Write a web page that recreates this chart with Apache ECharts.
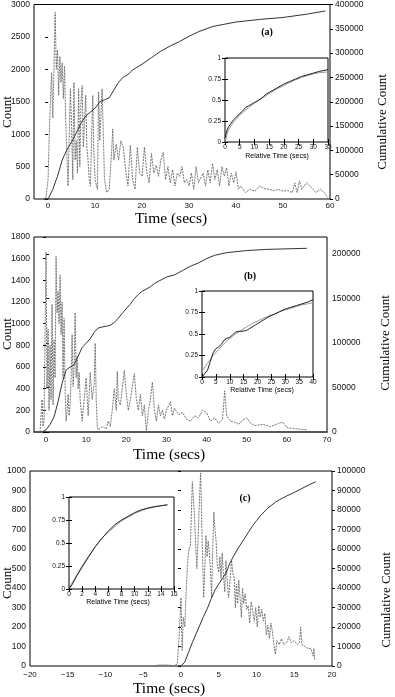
<!DOCTYPE html>
<html>
<head>
<meta charset="utf-8">
<script src="https://cdn.jsdelivr.net/npm/echarts@6/dist/echarts.min.js"></script>
<style>
html, body { margin: 0; padding: 0; background: #fff; }
#chart { width: 395px; height: 697px; }
</style>
</head>
<body>
<div id="chart"></div>
<script>
// (a) count per time bin, [secs, count]
var countA = [
  [-1, 0], [-0.5, 0], [0, 300], [0.25, 1000], [0.5, 1500], [0.75, 1950], [1, 1250], [1.25, 2000],
  [1.5, 2880], [1.75, 2000], [2, 2300], [2.25, 1600], [2.5, 2200], [2.75, 1800], [3, 2100], [3.25, 1550],
  [3.5, 2050], [3.75, 1200], [4, 700], [4.25, 200], [4.5, 1000], [4.75, 1700], [5, 1100], [5.25, 300],
  [5.5, 1800], [5.75, 600], [6, 900], [6.25, 400], [6.5, 1700], [6.75, 500], [7, 1500], [7.25, 1750],
  [7.5, 800], [8, 1600], [8.25, 800], [8.5, 600], [8.75, 300], [9, 200], [9.5, 1600], [9.75, 700],
  [10, 300], [10.5, 150], [10.75, 1650], [11, 900], [11.5, 1700], [12, 300], [12.5, 100], [13, 150],
  [13.5, 700], [13.75, 1080], [14, 600], [14.5, 850], [15, 600], [15.5, 900], [16, 800], [16.5, 450],
  [17, 200], [17.5, 830], [18, 300], [18.5, 150], [19, 800], [19.5, 400], [20, 350], [20.5, 800],
  [21, 420], [21.5, 250], [22, 700], [22.5, 400], [23, 520], [23.5, 350], [24, 600], [24.5, 720],
  [25, 300], [25.5, 500], [26, 250], [26.5, 450], [27, 200], [27.5, 400], [28, 350], [28.5, 500],
  [29, 250], [29.5, 300], [30, 200], [30.5, 400], [31, 150], [31.5, 500], [32, 250], [33, 400],
  [33.5, 200], [34, 450], [34.5, 250], [35, 550], [35.5, 300], [36, 450], [36.5, 200], [37, 500],
  [37.5, 350], [38, 480], [38.5, 200], [39, 400], [39.5, 250], [40, 420], [40.5, 150], [41, 200],
  [42, 100], [43, 150], [44, 120], [45, 200], [46, 160], [47, 150], [48, 130], [49, 150], [50, 120],
  [51, 130], [52, 100], [52.5, 250], [53, 100], [53.5, 280], [54, 150], [55, 250], [56, 180],
  [57, 100], [58, 150], [59, 80], [59.5, 20]
]
var cumA = [
  [-1, 0], [0, 0], [1, 20000], [2, 46700], [3, 80000], [4, 101300], [5, 117300], [6, 136000],
  [7, 156000], [8, 170700], [9, 178700], [10, 186700], [11, 200000], [12, 204000], [13, 208000],
  [14, 224000], [15, 240000], [16, 250700], [17, 256000], [18, 265300], [20, 277300], [22, 290700],
  [24, 304000], [26, 314700], [28, 324000], [30, 334700], [32, 344000], [35, 354700], [40, 364000],
  [45, 369300], [50, 373300], [55, 380000], [59, 386700]
]
var relA = [
  [0, 0.05], [0.5, 0.12], [1, 0.17], [2, 0.22], [3, 0.27], [4, 0.3], [5, 0.34], [6, 0.37], [7, 0.41],
  [8, 0.43], [9, 0.45], [10, 0.47], [11, 0.49], [12, 0.51], [13, 0.54], [14, 0.57], [15, 0.59],
  [16, 0.61], [18, 0.65], [20, 0.69], [22, 0.72], [24, 0.75], [26, 0.78], [28, 0.8], [30, 0.82],
  [32, 0.84], [34, 0.855], [35, 0.86]
]
var fitA = [
  [0, 0], [1, 0.13], [2, 0.19], [3, 0.24], [4, 0.28], [5, 0.32], [6, 0.35], [8, 0.41], [10, 0.46],
  [12, 0.51], [14, 0.55], [16, 0.6], [18, 0.64], [20, 0.67], [22, 0.71], [24, 0.74], [26, 0.77],
  [28, 0.79], [30, 0.81], [32, 0.825], [35, 0.835]
]

// (b)
var countB = [
  [-1.5, 0], [-1, 300], [-0.75, 50], [-0.5, 100], [0, 1660], [0.25, 400], [0.5, 950], [0.75, 200],
  [1, 800], [1.25, 300], [1.5, 1180], [1.75, 250], [2, 850], [2.25, 500], [2.5, 1620], [2.75, 1100],
  [3, 1300], [3.25, 1000], [3.5, 1450], [3.75, 900], [4, 1200], [4.25, 500], [4.5, 1050], [4.75, 400],
  [5, 100], [5.25, 200], [5.5, 350], [5.75, 150], [6, 250], [6.25, 500], [6.5, 900], [6.75, 420],
  [7, 600], [7.25, 1100], [7.5, 500], [7.75, 700], [8, 400], [8.25, 550], [8.5, 300], [8.75, 200],
  [9, 100], [9.5, 300], [10, 500], [10.5, 150], [11, 550], [11.5, 300], [12, 450], [12.25, 820],
  [12.5, 300], [12.75, 50], [13, 20], [14, 50], [15, 30], [15.5, 100], [16, 50], [16.5, 200],
  [17, 400], [17.5, 200], [17.75, 560], [18, 300], [18.5, 250], [19, 400], [19.5, 570], [20, 350],
  [20.5, 200], [21, 300], [21.5, 420], [22, 540], [22.5, 300], [23, 200], [23.5, 350], [24, 150],
  [24.5, 250], [25, 0], [25.5, 200], [26, 300], [26.5, 460], [27, 200], [27.5, 100], [28, 250],
  [28.5, 150], [29, 200], [29.5, 120], [30, 200], [31, 280], [31.5, 150], [32, 220], [33, 160],
  [34, 180], [35, 120], [36, 100], [37, 150], [38, 130], [39, 200], [40, 180], [41, 100], [42, 130],
  [43, 80], [44, 120], [44.5, 380], [45, 150], [46, 100], [47, 90], [48, 70], [49, 110], [50, 130],
  [51, 80], [52, 60], [54, 70], [56, 50], [58, 80], [59, 90], [60, 40], [62, 30], [65, 20]
]
var cumB = [
  [-1, 0], [0, 2400], [1, 8500], [2, 17000], [3, 34100], [4, 54800], [5, 69400], [6, 73000],
  [7, 75500], [8, 85200], [9, 94900], [10, 99800], [11, 104700], [12, 112000], [13, 116800],
  [14, 118000], [15, 118700], [16, 119900], [17, 122900], [18, 127800], [19, 133200], [20, 138700],
  [21, 143600], [22, 149700], [23, 154600], [24, 158200], [25, 160600], [26, 163100], [27, 166700],
  [28, 169200], [30, 174000], [32, 176500], [34, 181300], [36, 186200], [38, 189900], [40, 194700],
  [42, 198400], [45, 201400], [50, 203800], [55, 205100], [60, 205700], [65, 206300]
]
var relB = [
  [0, 0], [1, 0.04], [2, 0.08], [3, 0.18], [4, 0.28], [5, 0.33], [6, 0.35], [7, 0.38], [8, 0.43],
  [9, 0.45], [10, 0.46], [11, 0.49], [12, 0.52], [13, 0.53], [14, 0.53], [15, 0.535], [16, 0.54],
  [17, 0.56], [18, 0.58], [19, 0.6], [20, 0.62], [22, 0.66], [24, 0.7], [26, 0.73], [28, 0.76],
  [30, 0.79], [32, 0.81], [34, 0.83], [36, 0.85], [38, 0.87], [40, 0.9]
]
var fitB = [
  [0, 0.07], [2, 0.16], [4, 0.25], [6, 0.32], [8, 0.39], [10, 0.45], [12, 0.5], [14, 0.54],
  [16, 0.58], [18, 0.62], [20, 0.65], [22, 0.68], [24, 0.71], [26, 0.73], [28, 0.76], [30, 0.78],
  [32, 0.8], [34, 0.82], [36, 0.84], [38, 0.85], [40, 0.865]
]

// (c)
var countC = [
  [-3.5, 0], [-3, 5], [-2, 5], [-1.6, 5], [-1, 0], [-0.5, 10], [-0.25, 150], [0, 350], [0.15, 80],
  [0.3, 250], [0.5, 200], [0.6, 300], [0.85, 520], [1.05, 600], [1.25, 620], [1.5, 945], [1.75, 790],
  [1.9, 800], [2.1, 500], [2.25, 640], [2.45, 860], [2.6, 990], [2.8, 640], [3, 350], [3.15, 500],
  [3.3, 670], [3.45, 560], [3.6, 640], [3.75, 580], [3.9, 500], [4.05, 350], [4.2, 600], [4.35, 790],
  [4.5, 700], [4.65, 640], [4.8, 520], [5, 480], [5.15, 560], [5.3, 450], [5.45, 580], [5.6, 480],
  [5.8, 380], [5.95, 540], [6.1, 450], [6.3, 350], [6.5, 440], [6.7, 540], [6.85, 480], [7.05, 450],
  [7.2, 300], [7.35, 420], [7.5, 320], [7.65, 440], [7.8, 360], [8, 250], [8.15, 400], [8.3, 320],
  [8.5, 370], [8.7, 290], [8.9, 310], [9.1, 220], [9.3, 330], [9.5, 280], [9.7, 230], [9.9, 300],
  [10.1, 200], [10.3, 310], [10.5, 250], [10.7, 290], [10.9, 230], [11.1, 270], [11.3, 160],
  [11.5, 210], [11.7, 140], [11.9, 220], [12.1, 180], [12.3, 110], [12.5, 60], [12.7, 130], [13, 110],
  [13.3, 140], [13.6, 110], [14, 120], [14.3, 150], [14.6, 120], [15, 130], [15.4, 110], [15.7, 120],
  [15.85, 200], [16, 110], [16.4, 100], [16.8, 90], [17.2, 90], [17.5, 50], [17.6, 90], [17.7, 30]
]
var cumC = [
  [-0.3, 0], [0, 0], [0.5, 2000], [1, 7000], [1.5, 12000], [2, 16500], [2.5, 21000], [3, 25500],
  [3.5, 29600], [4, 34500], [4.5, 39000], [5, 42000], [5.5, 45000], [6, 48000], [6.5, 53000],
  [7, 56500], [7.5, 60000], [8, 63000], [8.5, 66000], [9, 69000], [9.5, 72000], [10, 74500],
  [10.5, 77000], [11, 79000], [11.5, 81000], [12, 82500], [12.5, 84000], [13, 85200], [13.5, 86200],
  [14, 87200], [15, 89000], [16, 91000], [17, 93000], [17.85, 94500]
]
var relC = [
  [0, 0], [0.5, 0.05], [1, 0.12], [2, 0.24], [3, 0.35], [4, 0.46], [5, 0.55], [6, 0.63], [7, 0.7],
  [8, 0.75], [9, 0.79], [10, 0.83], [11, 0.86], [12, 0.88], [13, 0.895], [14, 0.905], [15, 0.915]
]
var fitC = [
  [0, 0.01], [1, 0.13], [2, 0.25], [3, 0.36], [4, 0.46], [5, 0.55], [6, 0.62], [7, 0.68], [8, 0.74],
  [9, 0.78], [10, 0.82], [11, 0.85], [12, 0.875], [13, 0.89], [14, 0.905], [15, 0.915]
]

// tick labels
var timeTicksA = [0, 10, 20, 30, 40, 50, 60]
var timeTicksB = [0, 10, 20, 30, 40, 50, 60, 70]
var cumTicksB = [0, 50000, 100000, 150000, 200000]

var SANS = 'Liberation Sans'
var SERIF = 'Liberation Serif'

function minus (v) { return String(v).replace('-', '\u2212') }

function lab (size, margin, extra) {
  var o = { fontFamily: SANS, fontSize: size, color: '#111', margin: margin, formatter: minus }
  for (var k in extra) o[k] = extra[k]
  return o
}

function mainX (gi, min, max, interval, ticks, margin) {
  return {
    type: 'value', gridIndex: gi, min: min, max: max, interval: interval,
    axisLine: { show: false }, axisTick: { show: false }, splitLine: { show: false },
    axisLabel: lab(8, margin, ticks ? { customValues: ticks } : {})
  }
}

function mainY (gi, max, interval, right, ticks) {
  return {
    type: 'value', gridIndex: gi, min: 0, max: max, interval: interval,
    position: right ? 'right' : 'left',
    axisLine: { show: false }, splitLine: { show: false },
    axisTick: ticks ? { length: 3, customValues: ticks, lineStyle: { color: '#000' } } : { length: 3, lineStyle: { color: '#000' } },
    axisLabel: lab(8.5, right ? 5 : 4, ticks ? { customValues: ticks } : {})
  }
}

function insetX (gi, max, step, top) {
  return {
    type: 'value', gridIndex: gi, min: 0, max: max, interval: step, position: top ? 'top' : 'bottom',
    axisLine: { show: false }, splitLine: { show: false },
    axisTick: { inside: true, length: 3, lineStyle: { color: '#000' } },
    axisLabel: top ? { show: false } : lab(6.5, 2)
  }
}

function insetY (gi, right) {
  return {
    type: 'value', gridIndex: gi, min: 0, max: 1, interval: 0.25, position: right ? 'right' : 'left',
    axisLine: { show: false }, splitLine: { show: false },
    axisTick: { inside: true, length: 3, lineStyle: { color: '#000' } },
    axisLabel: right ? { show: false } : lab(6.5, 4)
  }
}

function dotted (xi, yi, data) {
  return {
    type: 'line', xAxisIndex: xi, yAxisIndex: yi, data: data, symbol: 'none', silent: true,
    lineStyle: { color: '#666', width: 0.9, type: [2, 1] }
  }
}

function solid (xi, yi, data, color) {
  return {
    type: 'line', xAxisIndex: xi, yAxisIndex: yi, data: data, symbol: 'none', silent: true,
    lineStyle: { color: color, width: 1 }
  }
}

function txt (x, y, s, font, rot) {
  return {
    type: 'text', x: x, y: y, rotation: rot ? Math.PI / 2 : 0,
    style: { text: s, font: font, fill: '#000', textAlign: 'center', textVerticalAlign: 'middle', align: 'center', verticalAlign: 'middle' }
  }
}

var grids = [
  { left: 34, top: 3, width: 296, height: 196 },
  { left: 225, top: 58, width: 103, height: 84 },
  { left: 34, top: 237, width: 293, height: 195 },
  { left: 202, top: 291, width: 111, height: 86 },
  { left: 30, top: 471, width: 302, height: 195 },
  { left: 69, top: 497, width: 105, height: 92 }
].map(function (g) {
  g.show = true
  g.borderColor = '#000'
  g.borderWidth = 1
  return g
})

var chart = echarts.init(document.getElementById('chart'))

var bigTitle = '13px "' + SERIF + '"'
var timeTitle = '15.5px "' + SERIF + '"'
var relTitle = '7px "' + SANS + '"'
var tag = 'bold 10px "' + SERIF + '"'

chart.setOption({
  animation: false,
  backgroundColor: '#fff',
  grid: grids,
  xAxis: [
    mainX(0, -3, 60, null, timeTicksA, 3),
    insetX(1, 35, 5), insetX(1, 35, 5, true),
    mainX(2, -3, 70, null, timeTicksB, 4),
    insetX(3, 40, 5), insetX(3, 40, 5, true),
    mainX(4, -20, 20, 5, null, 5),
    insetX(5, 16, 2), insetX(5, 16, 2, true),
    // heavier top frame of panel (b)
    {
      type: 'value', gridIndex: 2, min: -3, max: 70, position: 'top',
      axisLine: { show: true, lineStyle: { color: '#555', width: 2 } },
      axisTick: { show: false }, axisLabel: { show: false }, splitLine: { show: false }
    }
  ],
  yAxis: [
    mainY(0, 3000, 500), mainY(0, 400000, 50000, true),
    insetY(1), insetY(1, true),
    mainY(2, 1800, 200), mainY(2, 219000, null, true, cumTicksB),
    insetY(3), insetY(3, true),
    mainY(4, 1000, 100), mainY(4, 100000, 10000, true),
    insetY(5), insetY(5, true)
  ],
  series: [
    dotted(0, 0, countA), solid(0, 1, cumA, '#333'),
    solid(1, 2, fitA, '#999'), solid(1, 2, relA, '#222'),
    dotted(3, 4, countB), solid(3, 5, cumB, '#333'),
    solid(4, 6, fitB, '#999'), solid(4, 6, relB, '#222'),
    dotted(6, 8, countC), solid(6, 9, cumC, '#333'),
    solid(7, 10, fitC, '#999'), solid(7, 10, relC, '#222')
  ],
  graphic: [
    txt(8, 112, 'Count', bigTitle, true),
    txt(8, 334, 'Count', bigTitle, true),
    txt(8, 583, 'Count', bigTitle, true),
    txt(383, 122, 'Cumulative Count', bigTitle, true),
    txt(386, 343, 'Cumulative Count', bigTitle, true),
    txt(387, 600, 'Cumulative Count', bigTitle, true),
    txt(171, 219, 'Time (secs)', timeTitle),
    txt(169, 455, 'Time (secs)', timeTitle),
    txt(169, 689, 'Time (secs)', timeTitle),
    txt(277, 156, 'Relative Time (secs)', relTitle),
    txt(262, 390, 'Relative Time (secs)', relTitle),
    txt(118, 602, 'Relative Time (secs)', relTitle),
    txt(267, 32, '(a)', tag),
    txt(250, 276, '(b)', tag),
    txt(245, 498, '(c)', tag)
  ]
})
</script>
</body>
</html>
